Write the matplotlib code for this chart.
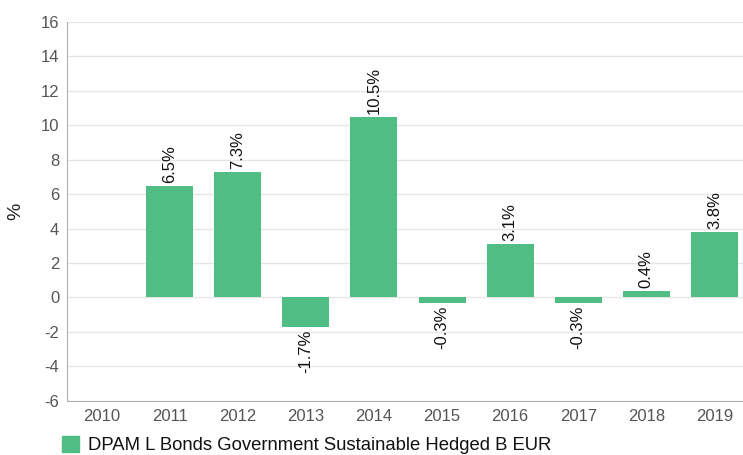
import numpy as np
import matplotlib.pyplot as plt

plt.rcParams['font.family'] = ['Liberation Sans', 'DejaVu Sans']
plt.rcParams['axes.unicode_minus'] = False

years = ['2010', '2011', '2012', '2013', '2014', '2015', '2016', '2017', '2018', '2019']
perf = [np.nan, 6.5, 7.3, -1.7, 10.5, -0.3, 3.1, -0.3, 0.4, 3.8]
fund = 'DPAM L Bonds Government Sustainable Hedged B EUR'

green = '#4fbd84'

fig = plt.figure(figsize=(7.43, 4.55), dpi=100)
ax = fig.add_axes([0.0908, 0.119, 0.9166, 0.833])

x = np.arange(len(years))
vals = np.array(perf, dtype=float)
ax.bar(x, np.nan_to_num(vals), width=0.69, color=green, zorder=3)

# etiquetas giradas acima/abaixo das barras
for xi, v in zip(x, vals):
    if np.isnan(v):
        continue
    txt = '%.1f%%' % v
    if v >= 0:
        ax.annotate(txt, (xi, v), xytext=(0, 2), textcoords='offset points',
                    rotation=90, ha='center', va='bottom', fontsize=12, color='#111111')
    else:
        ax.annotate(txt, (xi, v), xytext=(0, -2), textcoords='offset points',
                    rotation=90, ha='center', va='top', fontsize=12, color='#111111')

ax.set_xlim(-0.5, len(years) - 0.5)
ax.set_ylim(-6, 16)
ax.set_yticks(np.arange(-6, 17, 2))
ax.set_xticks(x)
ax.set_xticklabels(years)
ax.yaxis.grid(True, color='#e6e6e6', linewidth=1, zorder=0)
ax.set_axisbelow(True)

for s in ['top', 'right']:
    ax.spines[s].set_visible(False)
ax.spines['left'].set_color('#b0b0b0')
ax.spines['bottom'].set_color('#b0b0b0')
ax.tick_params(axis='both', length=0, labelsize=12, colors='#555555', pad=6)

ax.set_ylabel('%', fontsize=14, color='#222222', labelpad=12)

handle = plt.Rectangle((0, 0), 1, 1, color=green)
fig.legend([handle], [fund], loc='lower left', bbox_to_anchor=(0.061, -0.035),
           frameon=False, fontsize=13.3, handlelength=0.9, handleheight=0.9,
           handletextpad=0.5, labelcolor='#111111')

fig.savefig('out.png', dpi=100)
